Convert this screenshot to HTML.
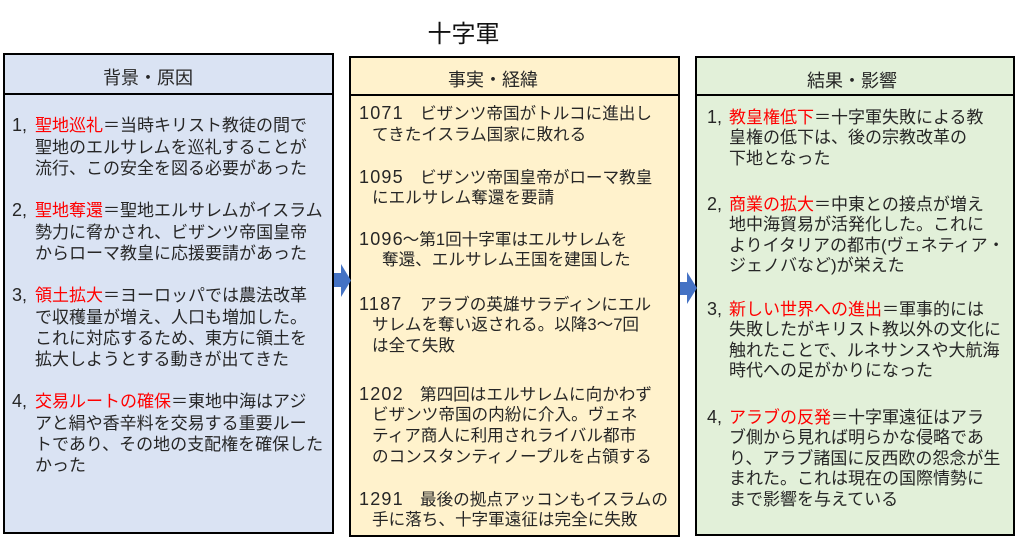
<!DOCTYPE html>
<html lang="ja">
<head>
<meta charset="utf-8">
<style>
  html, body { margin:0; padding:0; background:#fff; }
  #c { position:relative; width:1024px; height:546px; overflow:hidden; background:#fff;
       font-family:"Liberation Sans","Noto Sans CJK JP",sans-serif; color:#262626; }
  .box { position:absolute; box-sizing:border-box; border:2px solid #000; }
  .hd { position:absolute; left:0; right:0; top:0; border-bottom:2px solid #000; }
  .ht { position:absolute; font-size:18px; line-height:24px; white-space:nowrap; color:#262626; }
  .p { position:absolute; white-space:nowrap; }
  .L { font-size:17px; line-height:21.3px; padding-left:23px; }
  .R { font-size:17px; line-height:20.5px; padding-left:22px; }
  .n { display:inline-block; width:23px; margin-left:-23px; font-size:18px; }
  .R .n { width:22px; margin-left:-22px; }
  .r { color:#ff0000; }
  .M { font-size:16.6px; line-height:20.7px; }
  .y { display:inline-block; width:61px; letter-spacing:1.2px; font-size:18px; }
  .y2 { letter-spacing:1.2px; margin-right:-1.2px; font-size:18px; }
  .i { display:inline-block; width:13px; }
  .i2 { display:inline-block; width:23px; }
</style>
</head>
<body>
<div id="c">
  <!-- title -->
  <div style="position:absolute;left:403px;top:23px;width:121px;text-align:center;font-size:24px;line-height:24px;color:#111;">十字軍</div>

  <!-- boxes -->
  <div class="box" style="left:3px;top:53px;width:331px;height:481px;background:#DAE3F3;">
    <div class="hd" style="height:38px;"></div>
  </div>
  <div class="box" style="left:349px;top:56px;width:331px;height:481px;background:#FFF2CC;">
    <div class="hd" style="height:36px;"></div>
  </div>
  <div class="box" style="left:695px;top:56px;width:320px;height:480px;background:#E2F0D9;">
    <div class="hd" style="height:36px;"></div>
  </div>

  <!-- headers -->
  <div class="ht" style="left:103px;top:66px;">背景・原因</div>
  <div class="ht" style="left:448px;top:68px;">事実・経緯</div>
  <div class="ht" style="left:807px;top:69px;">結果・影響</div>

  <!-- arrows -->
  <svg style="position:absolute;left:0;top:0;" width="1024" height="546">
    <polygon points="334,273 341,273 341,264 351,280.5 341,297 341,287 334,287" fill="#4472C4"/>
    <polygon points="680,282 687,282 687,272 697,288 687,304 687,295 680,295" fill="#4472C4"/>
  </svg>

  <!-- left column -->
  <div class="p L" style="left:12px;top:115.4px;"><span class="n">1,</span><span class="r">聖地巡礼</span>＝当時キリスト教徒の間で<br>聖地のエルサレムを巡礼することが<br>流行、この安全を図る必要があった</div>
  <div class="p L" style="left:12px;top:200.4px;"><span class="n">2,</span><span class="r">聖地奪還</span>＝聖地エルサレムがイスラム<br>勢力に脅かされ、ビザンツ帝国皇帝<br>からローマ教皇に応援要請があった</div>
  <div class="p L" style="left:12px;top:285.4px;"><span class="n">3,</span><span class="r">領土拡大</span>＝ヨーロッパでは農法改革<br>で収穫量が増え、人口も増加した。<br>これに対応するため、東方に領土を<br>拡大しようとする動きが出てきた</div>
  <div class="p L" style="left:12px;top:391.4px;"><span class="n">4,</span><span class="r">交易ルートの確保</span>＝東地中海はアジ<br>アと絹や香辛料を交易する重要ルー<br>トであり、その地の支配権を確保した<br>かった</div>

  <!-- middle column -->
  <div class="p M" style="left:359px;top:103.2px;"><span class="y">1071</span>ビザンツ帝国がトルコに進出し<br><span class="i"></span>てきたイスラム国家に敗れる</div>
  <div class="p M" style="left:359px;top:166.7px;"><span class="y">1095</span>ビザンツ帝国皇帝がローマ教皇<br><span class="i"></span>にエルサレム奪還を要請</div>
  <div class="p M" style="left:359px;top:228.7px;"><span class="y2">1096</span>～第1回十字軍はエルサレムを<br><span class="i2"></span>奪還、エルサレム王国を建国した</div>
  <div class="p M" style="left:359px;top:293.7px;"><span class="y">1187</span>アラブの英雄サラディンにエル<br><span class="i"></span>サレムを奪い返される。以降3～7回<br><span class="i"></span>は全て失敗</div>
  <div class="p M" style="left:359px;top:383.7px;"><span class="y">1202</span>第四回はエルサレムに向かわず<br><span class="i"></span>ビザンツ帝国の内紛に介入。ヴェネ<br><span class="i"></span>ティア商人に利用されライバル都市<br><span class="i"></span>のコンスタンティノープルを占領する</div>
  <div class="p M" style="left:359px;top:488.7px;"><span class="y">1291</span>最後の拠点アッコンもイスラムの<br><span class="i"></span>手に落ち、十字軍遠征は完全に失敗</div>

  <!-- right column -->
  <div class="p R" style="left:707px;top:106.8px;"><span class="n">1,</span><span class="r">教皇権低下</span>＝十字軍失敗による教<br>皇権の低下は、後の宗教改革の<br>下地となった</div>
  <div class="p R" style="left:707px;top:193.8px;"><span class="n">2,</span><span class="r">商業の拡大</span>＝中東との接点が増え<br>地中海貿易が活発化した。これに<br>よりイタリアの都市(ヴェネティア・<br>ジェノバなど)が栄えた</div>
  <div class="p R" style="left:707px;top:298.8px;"><span class="n">3,</span><span class="r">新しい世界への進出</span>＝軍事的には<br>失敗したがキリスト教以外の文化に<br>触れたことで、ルネサンスや大航海<br>時代への足がかりになった</div>
  <div class="p R" style="left:707px;top:406.8px;"><span class="n">4,</span><span class="r">アラブの反発</span>＝十字軍遠征はアラ<br>ブ側から見れば明らかな侵略であ<br>り、アラブ諸国に反西欧の怨念が生<br>まれた。これは現在の国際情勢に<br>まで影響を与えている</div>
</div>
</body>
</html>
